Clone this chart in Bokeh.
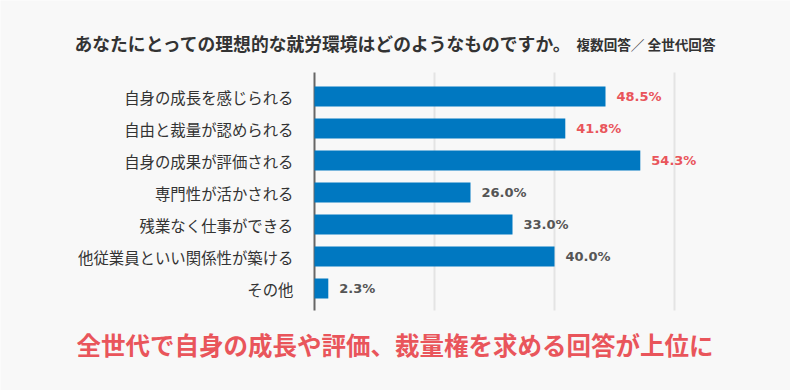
from bokeh.plotting import figure
from bokeh.models import Range1d, Label, ColumnDataSource
from bokeh.core.properties import value
from bokeh.embed import file_html
from bokeh.resources import INLINE

categories = ["自身の成長を感じられる", "自由と裁量が認められる", "自身の成果が評価される",
              "専門性が活かされる", "残業なく仕事ができる", "他従業員といい関係性が築ける", "その他"]
values = [48.5, 41.8, 54.3, 26.0, 33.0, 40.0, 2.3]
highlight = [True, True, True, False, False, False, False]
x_ticks = [20, 40, 60]

title_text = "あなたにとっての理想的な就労環境はどのようなものですか。"
title_note = "複数回答／ 全世代回答"
summary_text = "全世代で自身の成長や評価、裁量権を求める回答が上位に"

BG = "#f8f8f8"
BAR = "#0078c1"
RED = "#e9555b"
GRAY = "#555555"
JP = "Noto Sans CJK JP"

W, H = 790, 390
PX_PER_UNIT = 6.0          # pixels per percentage point
X0_PX = 314                # pixel position of 0 %
ROW_PX = 32                # pixels per category row
Y0_PX = 96                 # pixel centre of the first row

idx = list(range(len(categories)))
n = len(categories)
y_top, y_bot = -0.75, n - 1 + 0.6875   # plotting-area extent in row units

src = ColumnDataSource(dict(
    y=idx, v=values, zero=[0] * n, cat=categories,
    lab=[f"{v:.1f}%" for v in values],
    col=[RED if h else GRAY for h in highlight],
))
grid = ColumnDataSource(dict(x=x_ticks, y0=[y_top] * len(x_ticks), y1=[y_bot] * len(x_ticks)))

p = figure(width=W, height=H, output_backend="svg", toolbar_location=None,
           x_range=Range1d(-X0_PX / PX_PER_UNIT, (W - X0_PX) / PX_PER_UNIT),
           y_range=Range1d((H - Y0_PX) / ROW_PX, -Y0_PX / ROW_PX),
           min_border=0, background_fill_color=BG, border_fill_color=BG,
           outline_line_color=None)
p.axis.visible = False
p.grid.visible = False

# grid lines and axis line
p.segment(x0="x", x1="x", y0="y0", y1="y1", source=grid, line_color="#e4e4e4", line_width=2)
p.segment(x0=[0], x1=[0], y0=[y_top], y1=[y_bot], line_color="#666666", line_width=2)

# bars
p.hbar(y="y", right="v", left=0, height=0.625, source=src, color=BAR, line_color=None)

# value labels
p.text(x="v", y="y", text="lab", source=src, x_offset=11, text_color="col",
       text_font=value("DejaVu Sans"), text_font_style="bold", text_font_size="13px",
       text_baseline="middle", text_align="left")

# category labels
p.text(x="zero", y="y", text="cat", source=src, x_offset=-21, text_color="#333333",
       text_font=value(JP), text_font_size="15.4px",
       text_baseline="middle", text_align="right")

p.add_layout(Label(x=74, y=H - 42, x_units="screen", y_units="screen", text=title_text,
                   text_font=JP, text_font_style="bold", text_font_size="17.8px",
                   text_color="#333333", text_baseline="middle"))
p.add_layout(Label(x=576, y=H - 43, x_units="screen", y_units="screen", text=title_note,
                   text_font=JP, text_font_style="bold", text_font_size="13.6px",
                   text_color="#333333", text_baseline="middle"))
p.add_layout(Label(x=76, y=H - 344, x_units="screen", y_units="screen", text=summary_text,
                   text_font=JP, text_font_style="bold", text_font_size="24.5px",
                   text_color=RED, text_baseline="middle", text_align="left"))

html = file_html(p, INLINE)
open("out.html", "w").write(html)
